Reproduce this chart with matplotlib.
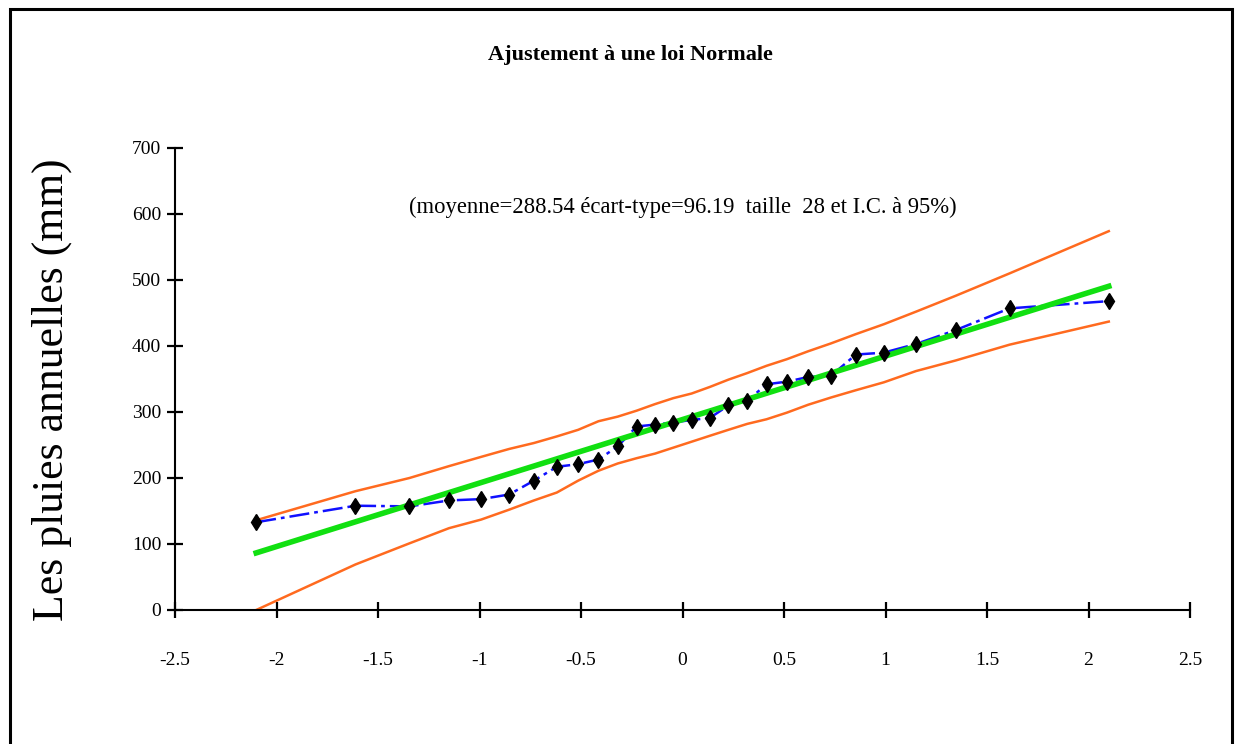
import matplotlib
matplotlib.use("Agg")
import matplotlib.pyplot as plt
from matplotlib.patches import Rectangle

# normal quantiles of the 28 ranked values
z = [-2.100, -1.611, -1.345, -1.150, -0.992, -0.854, -0.732, -0.619, -0.514,
     -0.414, -0.319, -0.226, -0.135, -0.045, 0.045, 0.135, 0.226, 0.319,
     0.414, 0.514, 0.619, 0.732, 0.854, 0.992, 1.150, 1.345, 1.611, 2.100]

# observed annual rainfall (mm), sorted
pluies = [133, 158, 157, 166, 168, 175, 196, 217, 221, 228, 248, 278, 281, 284,
          288, 291, 310, 317, 342, 346, 353, 355, 387, 390, 403, 424, 457, 468]

# fitted normal line
ajust = [86.5, 133.6, 159.2, 177.9, 193.1, 206.4, 218.1, 229.0, 239.1, 248.7,
         257.9, 266.8, 275.6, 284.2, 292.9, 301.5, 310.3, 319.2, 328.4, 338.0,
         348.1, 359.0, 370.7, 384.0, 399.2, 417.9, 443.5, 490.5]

# 95% confidence band
ic_haut = [136, 180, 200, 218, 232, 244, 253, 263, 273, 286, 293, 302, 312, 321,
           328, 338, 349, 359, 370, 380, 392, 404, 418, 433, 452, 476, 510, 574]
ic_bas = [0, 69, 101, 124, 137, 152, 166, 178, 196, 211, 222, 230, 237, 246,
          255, 264, 273, 282, 289, 299, 311, 322, 333, 345, 362, 378, 402, 437]

xticks = [-2.5, -2, -1.5, -1, -0.5, 0, 0.5, 1, 1.5, 2, 2.5]
xlabels = ["-2.5", "-2", "-1.5", "-1", "-0.5", "0", "0.5", "1", "1.5", "2", "2.5"]
yticks = [0, 100, 200, 300, 400, 500, 600, 700]

plt.rcParams["font.family"] = ["Liberation Serif", "DejaVu Serif"]

fig = plt.figure(figsize=(12.41, 7.44), dpi=100)
ax = fig.add_axes([175 / 1241, 1 - 610 / 744, 1015 / 1241, 462 / 744])

ax.plot(z, ic_haut, color="#ff6a1f", lw=1.8, zorder=2)
ax.plot(z, ic_bas, color="#ff6a1f", lw=1.8, zorder=2)
ax.plot(z, pluies, color="#1010ff", lw=1.8, ls=(0, (8, 2, 1.5, 2)), zorder=3)
ax.plot(z, ajust, color="#11e011", lw=4, zorder=4)
ax.plot(z, pluies, ls="none", marker="d", ms=8, color="black", zorder=5)

ax.set_xlim(-2.5, 2.5)
ax.set_ylim(0, 700)
ax.set_xticks(xticks)
ax.set_xticklabels(xlabels)
ax.set_yticks(yticks)
ax.spines["top"].set_visible(False)
ax.spines["right"].set_visible(False)
for s in ("left", "bottom"):
    ax.spines[s].set_linewidth(1.5)
ax.tick_params(axis="both", direction="inout", length=12, width=1.6,
               labelsize=14)
ax.tick_params(axis="x", pad=24)
ax.tick_params(axis="y", pad=4)
for sp in ax.spines.values():
    sp.set_clip_on(False)

ax.set_ylabel("Les pluies annuelles (mm)", fontsize=31.5)
ax.yaxis.set_label_coords(-0.1015, 0.476)

ax.text(0.5, 0.872, "(moyenne=288.54 écart-type=96.19  taille  28 et I.C. à 95%)",
        transform=ax.transAxes, ha="center", va="center", fontsize=16.3)

fig.text(630 / 1241, 1 - 55 / 744, "Ajustement à une loi Normale",
         ha="center", va="center", fontsize=16, fontweight="bold")

# outer frame of the chart
fig.patches.append(Rectangle((10 / 1241, -0.05), 1222 / 1241, 1.05 - 9 / 744,
                             transform=fig.transFigure, fill=False,
                             edgecolor="black", lw=2.2, clip_on=False))

fig.savefig("out.png", dpi=100)
